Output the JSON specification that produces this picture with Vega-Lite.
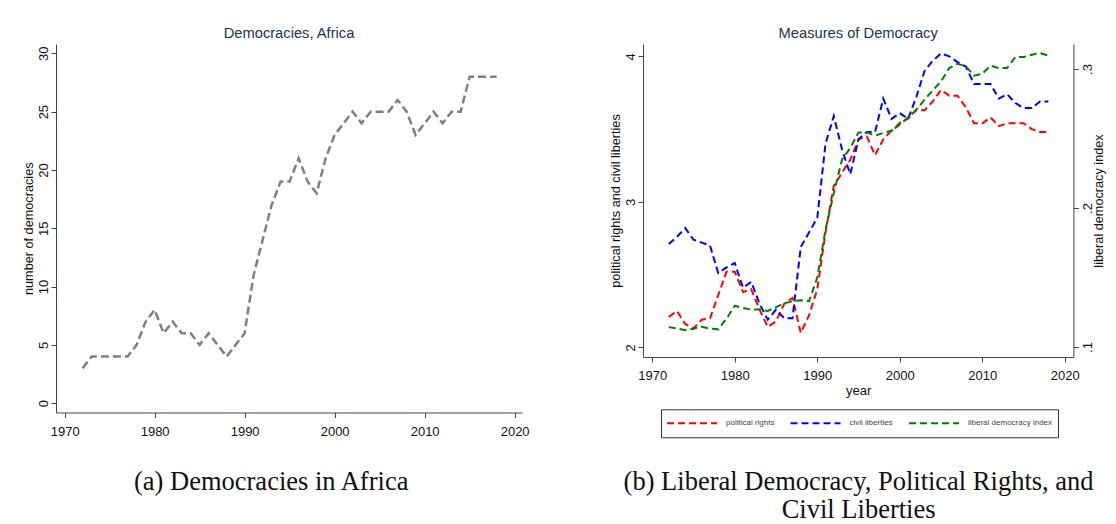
{
  "$schema": "https://vega.github.io/schema/vega-lite/v6.json",
  "autosize": {"type": "none"},
  "padding": {"left": 56, "top": 44, "right": 1060, "bottom": 480},
  "background": "white",
  "bounds": "flush",
  "spacing": 587,
  "config": {
    "view": {"stroke": null},
    "font": "Liberation Sans",
    "axis": {
      "grid": false,
      "domainColor": "#444444",
      "tickColor": "#444444",
      "domainWidth": 1,
      "tickWidth": 1,
      "tickSize": 5,
      "labelColor": "#111111",
      "titleColor": "#111111",
      "labelFont": "Liberation Sans",
      "titleFont": "Liberation Sans",
      "labelFontSize": 13,
      "titleFontSize": 12.7,
      "titleFontWeight": "normal"
    }
  },
  "datasets": {
    "africa": [
      {"year": 1972, "democracies": 3}, {"year": 1973, "democracies": 4},
      {"year": 1974, "democracies": 4}, {"year": 1975, "democracies": 4},
      {"year": 1976, "democracies": 4}, {"year": 1977, "democracies": 4},
      {"year": 1978, "democracies": 5}, {"year": 1979, "democracies": 7},
      {"year": 1980, "democracies": 8}, {"year": 1981, "democracies": 6},
      {"year": 1982, "democracies": 7}, {"year": 1983, "democracies": 6},
      {"year": 1984, "democracies": 6}, {"year": 1985, "democracies": 5},
      {"year": 1986, "democracies": 6}, {"year": 1987, "democracies": 5},
      {"year": 1988, "democracies": 4}, {"year": 1989, "democracies": 5},
      {"year": 1990, "democracies": 6}, {"year": 1991, "democracies": 11},
      {"year": 1992, "democracies": 14}, {"year": 1993, "democracies": 17},
      {"year": 1994, "democracies": 19}, {"year": 1995, "democracies": 19},
      {"year": 1996, "democracies": 21}, {"year": 1997, "democracies": 19},
      {"year": 1998, "democracies": 18}, {"year": 1999, "democracies": 21},
      {"year": 2000, "democracies": 23}, {"year": 2001, "democracies": 24},
      {"year": 2002, "democracies": 25}, {"year": 2003, "democracies": 24},
      {"year": 2004, "democracies": 25}, {"year": 2005, "democracies": 25},
      {"year": 2006, "democracies": 25}, {"year": 2007, "democracies": 26},
      {"year": 2008, "democracies": 25}, {"year": 2009, "democracies": 23},
      {"year": 2010, "democracies": 24}, {"year": 2011, "democracies": 25},
      {"year": 2012, "democracies": 24}, {"year": 2013, "democracies": 25},
      {"year": 2014, "democracies": 25}, {"year": 2015, "democracies": 28},
      {"year": 2016, "democracies": 28}, {"year": 2017, "democracies": 28},
      {"year": 2018, "democracies": 28}
    ],
    "measures": [
      {"year": 1972, "series": "political rights", "value": 2.21},
      {"year": 1973, "series": "political rights", "value": 2.25},
      {"year": 1974, "series": "political rights", "value": 2.16},
      {"year": 1975, "series": "political rights", "value": 2.13},
      {"year": 1976, "series": "political rights", "value": 2.19},
      {"year": 1977, "series": "political rights", "value": 2.2},
      {"year": 1978, "series": "political rights", "value": 2.36},
      {"year": 1979, "series": "political rights", "value": 2.52},
      {"year": 1980, "series": "political rights", "value": 2.52},
      {"year": 1981, "series": "political rights", "value": 2.38},
      {"year": 1982, "series": "political rights", "value": 2.4},
      {"year": 1983, "series": "political rights", "value": 2.26},
      {"year": 1984, "series": "political rights", "value": 2.14},
      {"year": 1985, "series": "political rights", "value": 2.18},
      {"year": 1986, "series": "political rights", "value": 2.3},
      {"year": 1987, "series": "political rights", "value": 2.34},
      {"year": 1988, "series": "political rights", "value": 2.1},
      {"year": 1989, "series": "political rights", "value": 2.22},
      {"year": 1990, "series": "political rights", "value": 2.4},
      {"year": 1991, "series": "political rights", "value": 2.79},
      {"year": 1992, "series": "political rights", "value": 3.11},
      {"year": 1993, "series": "political rights", "value": 3.2},
      {"year": 1994, "series": "political rights", "value": 3.29},
      {"year": 1995, "series": "political rights", "value": 3.43},
      {"year": 1996, "series": "political rights", "value": 3.45},
      {"year": 1997, "series": "political rights", "value": 3.32},
      {"year": 1998, "series": "political rights", "value": 3.43},
      {"year": 1999, "series": "political rights", "value": 3.49},
      {"year": 2000, "series": "political rights", "value": 3.53},
      {"year": 2001, "series": "political rights", "value": 3.58},
      {"year": 2002, "series": "political rights", "value": 3.63},
      {"year": 2003, "series": "political rights", "value": 3.63},
      {"year": 2004, "series": "political rights", "value": 3.69},
      {"year": 2005, "series": "political rights", "value": 3.77},
      {"year": 2006, "series": "political rights", "value": 3.73},
      {"year": 2007, "series": "political rights", "value": 3.73},
      {"year": 2008, "series": "political rights", "value": 3.65},
      {"year": 2009, "series": "political rights", "value": 3.54},
      {"year": 2010, "series": "political rights", "value": 3.54},
      {"year": 2011, "series": "political rights", "value": 3.58},
      {"year": 2012, "series": "political rights", "value": 3.52},
      {"year": 2013, "series": "political rights", "value": 3.54},
      {"year": 2014, "series": "political rights", "value": 3.54},
      {"year": 2015, "series": "political rights", "value": 3.54},
      {"year": 2016, "series": "political rights", "value": 3.5},
      {"year": 2017, "series": "political rights", "value": 3.48},
      {"year": 2018, "series": "political rights", "value": 3.48},
      {"year": 1972, "series": "civil liberties", "value": 2.71},
      {"year": 1973, "series": "civil liberties", "value": 2.76},
      {"year": 1974, "series": "civil liberties", "value": 2.82},
      {"year": 1975, "series": "civil liberties", "value": 2.74},
      {"year": 1976, "series": "civil liberties", "value": 2.72},
      {"year": 1977, "series": "civil liberties", "value": 2.7},
      {"year": 1978, "series": "civil liberties", "value": 2.51},
      {"year": 1979, "series": "civil liberties", "value": 2.55},
      {"year": 1980, "series": "civil liberties", "value": 2.58},
      {"year": 1981, "series": "civil liberties", "value": 2.41},
      {"year": 1982, "series": "civil liberties", "value": 2.45},
      {"year": 1983, "series": "civil liberties", "value": 2.3},
      {"year": 1984, "series": "civil liberties", "value": 2.19},
      {"year": 1985, "series": "civil liberties", "value": 2.26},
      {"year": 1986, "series": "civil liberties", "value": 2.2},
      {"year": 1987, "series": "civil liberties", "value": 2.2},
      {"year": 1988, "series": "civil liberties", "value": 2.69},
      {"year": 1989, "series": "civil liberties", "value": 2.79},
      {"year": 1990, "series": "civil liberties", "value": 2.89},
      {"year": 1991, "series": "civil liberties", "value": 3.4},
      {"year": 1992, "series": "civil liberties", "value": 3.59},
      {"year": 1993, "series": "civil liberties", "value": 3.36},
      {"year": 1994, "series": "civil liberties", "value": 3.19},
      {"year": 1995, "series": "civil liberties", "value": 3.43},
      {"year": 1996, "series": "civil liberties", "value": 3.48},
      {"year": 1997, "series": "civil liberties", "value": 3.48},
      {"year": 1998, "series": "civil liberties", "value": 3.71},
      {"year": 1999, "series": "civil liberties", "value": 3.57},
      {"year": 2000, "series": "civil liberties", "value": 3.61},
      {"year": 2001, "series": "civil liberties", "value": 3.57},
      {"year": 2002, "series": "civil liberties", "value": 3.72},
      {"year": 2003, "series": "civil liberties", "value": 3.9},
      {"year": 2004, "series": "civil liberties", "value": 3.97},
      {"year": 2005, "series": "civil liberties", "value": 4.02},
      {"year": 2006, "series": "civil liberties", "value": 4.0},
      {"year": 2007, "series": "civil liberties", "value": 3.96},
      {"year": 2008, "series": "civil liberties", "value": 3.93},
      {"year": 2009, "series": "civil liberties", "value": 3.81},
      {"year": 2010, "series": "civil liberties", "value": 3.81},
      {"year": 2011, "series": "civil liberties", "value": 3.81},
      {"year": 2012, "series": "civil liberties", "value": 3.71},
      {"year": 2013, "series": "civil liberties", "value": 3.74},
      {"year": 2014, "series": "civil liberties", "value": 3.68},
      {"year": 2015, "series": "civil liberties", "value": 3.645},
      {"year": 2016, "series": "civil liberties", "value": 3.645},
      {"year": 2017, "series": "civil liberties", "value": 3.69},
      {"year": 2018, "series": "civil liberties", "value": 3.69},
      {"year": 1972, "series": "liberal democracy index", "value": 0.1143},
      {"year": 1973, "series": "liberal democracy index", "value": 0.1133},
      {"year": 1974, "series": "liberal democracy index", "value": 0.112},
      {"year": 1975, "series": "liberal democracy index", "value": 0.1132},
      {"year": 1976, "series": "liberal democracy index", "value": 0.1145},
      {"year": 1977, "series": "liberal democracy index", "value": 0.1132},
      {"year": 1978, "series": "liberal democracy index", "value": 0.1127},
      {"year": 1979, "series": "liberal democracy index", "value": 0.1203},
      {"year": 1980, "series": "liberal democracy index", "value": 0.1297},
      {"year": 1981, "series": "liberal democracy index", "value": 0.128},
      {"year": 1982, "series": "liberal democracy index", "value": 0.1269},
      {"year": 1983, "series": "liberal democracy index", "value": 0.1269},
      {"year": 1984, "series": "liberal democracy index", "value": 0.1259},
      {"year": 1985, "series": "liberal democracy index", "value": 0.1287},
      {"year": 1986, "series": "liberal democracy index", "value": 0.1314},
      {"year": 1987, "series": "liberal democracy index", "value": 0.1329},
      {"year": 1988, "series": "liberal democracy index", "value": 0.1336},
      {"year": 1989, "series": "liberal democracy index", "value": 0.1329},
      {"year": 1990, "series": "liberal democracy index", "value": 0.15},
      {"year": 1991, "series": "liberal democracy index", "value": 0.1844},
      {"year": 1992, "series": "liberal democracy index", "value": 0.2108},
      {"year": 1993, "series": "liberal democracy index", "value": 0.2348},
      {"year": 1994, "series": "liberal democracy index", "value": 0.2432},
      {"year": 1995, "series": "liberal democracy index", "value": 0.2544},
      {"year": 1996, "series": "liberal democracy index", "value": 0.2544},
      {"year": 1997, "series": "liberal democracy index", "value": 0.252},
      {"year": 1998, "series": "liberal democracy index", "value": 0.254},
      {"year": 1999, "series": "liberal democracy index", "value": 0.2556},
      {"year": 2000, "series": "liberal democracy index", "value": 0.2612},
      {"year": 2001, "series": "liberal democracy index", "value": 0.2643},
      {"year": 2002, "series": "liberal democracy index", "value": 0.2707},
      {"year": 2003, "series": "liberal democracy index", "value": 0.2779},
      {"year": 2004, "series": "liberal democracy index", "value": 0.2847},
      {"year": 2005, "series": "liberal democracy index", "value": 0.2911},
      {"year": 2006, "series": "liberal democracy index", "value": 0.3007},
      {"year": 2007, "series": "liberal democracy index", "value": 0.3038},
      {"year": 2008, "series": "liberal democracy index", "value": 0.3019},
      {"year": 2009, "series": "liberal democracy index", "value": 0.2952},
      {"year": 2010, "series": "liberal democracy index", "value": 0.2966},
      {"year": 2011, "series": "liberal democracy index", "value": 0.3024},
      {"year": 2012, "series": "liberal democracy index", "value": 0.3007},
      {"year": 2013, "series": "liberal democracy index", "value": 0.3007},
      {"year": 2014, "series": "liberal democracy index", "value": 0.3086},
      {"year": 2015, "series": "liberal democracy index", "value": 0.3086},
      {"year": 2016, "series": "liberal democracy index", "value": 0.3103},
      {"year": 2017, "series": "liberal democracy index", "value": 0.3115},
      {"year": 2018, "series": "liberal democracy index", "value": 0.3096}
    ]
  },
  "hconcat": [
    {
      "bounds": "flush",
      "title": {
        "text": "(a) Democracies in Africa",
        "orient": "bottom",
        "anchor": "middle",
        "font": "Liberation Serif",
        "fontSize": 26.5,
        "fontWeight": "normal",
        "color": "#111111",
        "baseline": "alphabetic",
        "offset": 51,
        "dx": -4.5
      },
      "vconcat": [
        {
          "width": 466,
          "height": 368.5,
          "title": {
            "text": "Democracies, Africa",
            "frame": "group",
            "anchor": "middle",
            "font": "Liberation Sans",
            "fontSize": 14.7,
            "fontWeight": "normal",
            "color": "#24324f",
            "baseline": "alphabetic",
            "offset": -9
          },
          "data": {"name": "africa"},
          "mark": {"type": "line", "color": "#808080", "strokeWidth": 2.5, "strokeDash": [8, 4]},
          "encoding": {
            "x": {
              "field": "year",
              "type": "quantitative",
              "scale": {"domain": [1969.04, 2020.82], "nice": false, "zero": false},
              "axis": {
                "title": null,
                "values": [1970, 1980, 1990, 2000, 2010, 2020],
                "format": "d",
                "labelBaseline": "alphabetic",
                "labelPadding": 18
              }
            },
            "y": {
              "field": "democracies",
              "type": "quantitative",
              "scale": {"domain": [-0.8, 30.8], "nice": false, "zero": false},
              "axis": {
                "title": "number of democracies",
                "values": [0, 5, 10, 15, 20, 25, 30],
                "format": "d",
                "labelAngle": -90,
                "labelAlign": "center",
                "labelBaseline": "alphabetic",
                "labelPadding": 4,
                "titleAngle": -90,
                "titleAlign": "center",
                "titleBaseline": "middle",
                "titleX": -27.7,
                "titleY": 184.25
              }
            }
          }
        }
      ]
    },
    {
      "bounds": "flush",
      "title": {
        "text": ["(b) Liberal Democracy, Political Rights, and", "Civil Liberties"],
        "orient": "bottom",
        "anchor": "middle",
        "font": "Liberation Serif",
        "fontSize": 26.5,
        "lineHeight": 27.5,
        "fontWeight": "normal",
        "color": "#111111",
        "baseline": "alphabetic",
        "offset": 92.5,
        "dx": 1.4
      },
      "vconcat": [
        {
          "width": 430.4,
          "height": 313,
          "title": {
            "text": "Measures of Democracy",
            "frame": "group",
            "anchor": "middle",
            "font": "Liberation Sans",
            "fontSize": 14.7,
            "fontWeight": "normal",
            "color": "#24324f",
            "baseline": "alphabetic",
            "offset": -9
          },
          "data": {"name": "measures"},
          "layer": [
            {
              "transform": [{"filter": "datum.series !== 'liberal democracy index'"}],
              "mark": {"type": "line", "strokeWidth": 2, "strokeDash": [7, 4]},
              "encoding": {
                "x": {
                  "field": "year",
                  "type": "quantitative",
                  "scale": {"domain": [1968.88, 2021.04], "nice": false, "zero": false},
                  "axis": {
                    "title": "year",
                    "titleFontSize": 13,
                    "values": [1970, 1980, 1990, 2000, 2010, 2020],
                    "format": "d",
                    "labelBaseline": "alphabetic",
                    "labelPadding": 17.5,
                    "titleAlign": "center",
                    "titleBaseline": "alphabetic",
                    "titleX": 215.2,
                    "titleY": 37.7
                  }
                },
                "y": {
                  "field": "value",
                  "type": "quantitative",
                  "scale": {"domain": [1.934, 4.085], "nice": false, "zero": false},
                  "axis": {
                    "title": "political rights and civil liberties",
                    "values": [2, 3, 4],
                    "format": "d",
                    "labelAngle": -90,
                    "labelAlign": "center",
                    "labelBaseline": "alphabetic",
                    "labelPadding": 4,
                    "titleAngle": -90,
                    "titleAlign": "center",
                    "titleBaseline": "middle",
                    "titleX": -27.3,
                    "titleY": 156.5
                  }
                },
                "color": {
                  "field": "series",
                  "type": "nominal",
                  "scale": {
                    "domain": ["political rights", "civil liberties", "liberal democracy index"],
                    "range": ["#ff0000", "#0000ff", "#008000"]
                  },
                  "legend": {
                    "title": null,
                    "orient": "none",
                    "legendX": 605,
                    "legendY": 365.3,
                    "direction": "horizontal",
                    "columns": 3,
                    "strokeColor": "#333333",
                    "padding": 5,
                    "symbolType": "stroke",
                    "symbolSize": 2500,
                    "symbolStrokeWidth": 2,
                    "symbolDash": [7, 4],
                    "clipHeight": 18,
                    "labelFont": "Liberation Sans",
                    "labelFontSize": 8,
                    "labelColor": "#444444",
                    "labelOffset": 8,
                    "columnPadding": 14.5,
                    "labelLimit": 0
                  }
                }
              }
            },
            {
              "transform": [{"filter": "datum.series === 'liberal democracy index'"}],
              "mark": {"type": "line", "strokeWidth": 2, "strokeDash": [7, 4]},
              "encoding": {
                "x": {
                  "field": "year",
                  "type": "quantitative",
                  "scale": {"domain": [1968.88, 2021.04], "nice": false, "zero": false}
                },
                "y": {
                  "field": "value",
                  "type": "quantitative",
                  "scale": {"domain": [0.0928, 0.318], "nice": false, "zero": false},
                  "axis": {
                    "orient": "right",
                    "title": "liberal democracy index",
                    "values": [0.1, 0.2, 0.3],
                    "labelExpr": "replace(format(datum.value, '.1f'), '0.', '.')",
                    "labelAngle": -90,
                    "labelAlign": "center",
                    "labelBaseline": "alphabetic",
                    "labelPadding": 13,
                    "titleAngle": -90,
                    "titleAlign": "center",
                    "titleBaseline": "middle",
                    "titleX": 24.6,
                    "titleY": 156.5
                  }
                },
                "color": {
                  "field": "series",
                  "type": "nominal",
                  "scale": {
                    "domain": ["political rights", "civil liberties", "liberal democracy index"],
                    "range": ["#ff0000", "#0000ff", "#008000"]
                  }
                }
              }
            }
          ],
          "resolve": {"scale": {"y": "independent"}}
        }
      ]
    }
  ]
}
